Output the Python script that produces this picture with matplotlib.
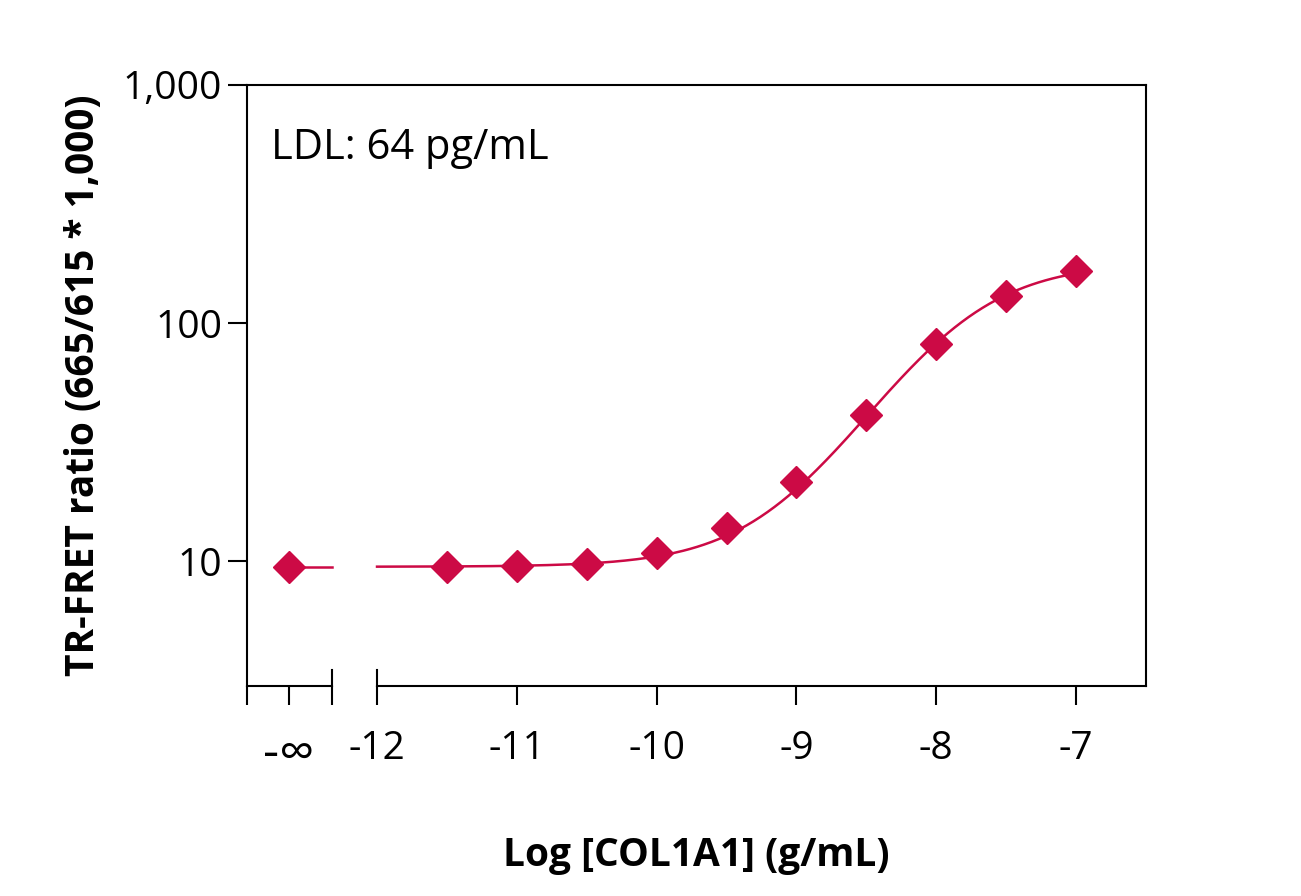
import numpy as np
import matplotlib.pyplot as plt

plt.rcParams["font.family"] = "Open Sans"

# -inf point is drawn at a stand-in position left of the axis break
NEG_INF_X = -12.63
log_conc = [-11.5, -11, -10.5, -10, -9.5, -9, -8.5, -8, -7.5, -7]
ratio = [9.5, 9.6, 9.8, 10.8, 13.8, 21.5, 41, 82, 130, 165]
blank_ratio = 9.5

# 4PL fit parameters
BOTTOM, TOP, LOG_EC50, HILL = 9.5, 180.0, -7.88, 1.05

x_ticks = [-12, -11, -10, -9, -8, -7]
x_labels = ["-12", "-11", "-10", "-9", "-8", "-7"]
COLOR = "#CC0A45"


def four_pl(x):
    return BOTTOM + (TOP - BOTTOM) / (1 + 10 ** (HILL * (LOG_EC50 - x)))


fig = plt.figure(figsize=(13.01, 8.96), dpi=100)
ax = fig.add_axes([247 / 1301, 1 - 686 / 896, 899 / 1301, 601 / 896])

xs = np.linspace(-12, -7, 300)
ax.plot(xs, four_pl(xs), color=COLOR, linewidth=1.8)
ax.plot([NEG_INF_X - 0.05, -12.32], [blank_ratio, blank_ratio],
        color=COLOR, linewidth=1.8)
ax.plot([NEG_INF_X] + log_conc, [blank_ratio] + ratio, linestyle="none",
        marker="D", markersize=16, color=COLOR)

ax.set_yscale("log")
ax.set_ylim(3.0, 1000)
ax.set_xlim(-12.93, -6.5)
ax.set_yticks([10, 100, 1000])
ax.set_yticklabels(["10", "100", "1,000"])
ax.minorticks_off()
ax.tick_params(axis="y", labelsize=28, length=14, width=1.5, pad=4)

ax.set_xticks(x_ticks + [NEG_INF_X, -12.93, -12.32])
ax.set_xticklabels(x_labels + ["-∞", "", ""])
ax.tick_params(axis="x", labelsize=28, length=14, width=1.5, pad=18,
               direction="out")
ax.get_xticklabels()[6].set_fontsize(36)

for side in ["left", "top", "right"]:
    ax.spines[side].set_linewidth(1.5)
ax.spines["bottom"].set_visible(False)
# broken bottom axis
ax.plot([-12.93, -12.32], [3.0, 3.0], color="black", linewidth=1.5,
        clip_on=False)
ax.plot([-12.0, -6.5], [3.0, 3.0], color="black", linewidth=1.5,
        clip_on=False)
for bx in [-12.32, -12.0]:
    ax.plot([bx, bx], [3.0, 3.0 * 1.17], color="black", linewidth=1.5,
            clip_on=False)

ax.text(0.027, 0.93, "LDL: 64 pg/mL", transform=ax.transAxes,
        fontsize=30, va="top")
ax.set_xlabel("Log [COL1A1] (g/mL)", fontsize=28, fontweight="bold",
              labelpad=40)
ax.set_ylabel("TR-FRET ratio (665/615 * 1,000)", fontsize=28,
              fontweight="bold", labelpad=14)

fig.savefig("out.png", dpi=100)
